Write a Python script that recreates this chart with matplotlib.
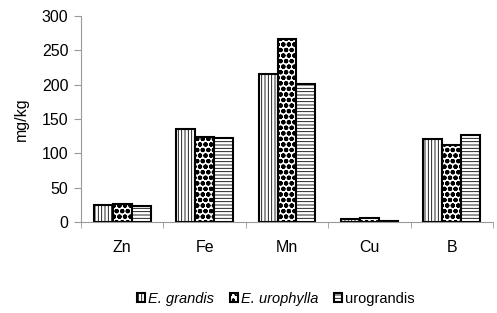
import matplotlib
matplotlib.use("Agg")
import matplotlib.pyplot as plt
import numpy as np

plt.rcParams['font.family'] = ['Liberation Sans', 'DejaVu Sans']
plt.rcParams['hatch.linewidth'] = 0.6

categories = ["Zn", "Fe", "Mn", "Cu", "B"]
e_grandis = [24.5, 136, 216, 4, 121]
e_urophylla = [26, 123, 267, 6, 112]
urograndis = [23, 122, 201, 1, 126]
series_names = ["E. grandis", "E. urophylla", "urograndis"]
yticks = [0, 50, 100, 150, 200, 250, 300]

fig = plt.figure(figsize=(4.97, 3.13), dpi=100)
ax = fig.add_axes([0.163, 0.291, 0.829, 0.658])

x = np.arange(len(categories))
w = 0.23
hatches = ['|||||', 'ooo', '-----']
hatch_lw = [0.6, 1.5, 0.6]
series = [e_grandis, e_urophylla, urograndis]
bars = []
for i, (vals, h, name) in enumerate(zip(series, hatches, series_names)):
    b = ax.bar(x + (i - 1) * w, vals, w, facecolor='white', edgecolor='black',
               linewidth=1.5, hatch=h, label=name)
    for p in b:
        try:
            p.set_hatch_linewidth(hatch_lw[i])
        except AttributeError:
            pass
    bars.append(b)

ax.set_xlim(-0.5, len(categories) - 0.5)
ax.set_ylim(0, 300)
ax.set_yticks(yticks)
ax.set_yticklabels([str(t) for t in yticks], fontsize=11.5)
ax.set_xticks(x)
ax.set_xticklabels(categories, fontsize=11.5)
ax.tick_params(axis='x', length=0, pad=13)
ax.set_xticks(np.arange(-0.5, len(categories), 1), minor=True)
ax.tick_params(axis='x', which='minor', length=4, color='#999999', direction='out')
ax.tick_params(axis='y', length=5, color='#999999', direction='out', pad=4)
for s in ['top', 'right']:
    ax.spines[s].set_visible(False)
for s in ['left', 'bottom']:
    ax.spines[s].set_color('#999999')
    ax.spines[s].set_linewidth(0.8)
ax.set_ylabel("mg/kg", fontsize=11.5, labelpad=9)

leg = fig.legend(handles=bars, labels=series_names, loc='center',
                 bbox_to_anchor=(0.555, 0.045), ncol=3, frameon=False,
                 fontsize=10.5, handlelength=0.55, handleheight=0.55,
                 handletextpad=0.2, columnspacing=1.1)
for t in leg.get_texts()[:2]:
    t.set_style('italic')

fig.savefig("out.png", dpi=100)
